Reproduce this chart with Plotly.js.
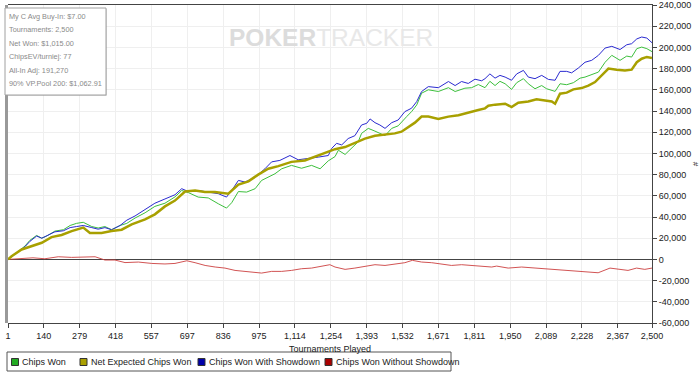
<!DOCTYPE html>
<html>
<head>
<meta charset="utf-8">
<script src="https://cdn.plot.ly/plotly-3.0.1.min.js"></script>
<style>html,body{margin:0;padding:0;background:#fff;}#chart{width:700px;height:374px;}</style>
</head>
<body>
<div id="chart"></div>
<script>
// Series names
const seriesNames = ["Chips Won", "Net Expected Chips Won", "Chips Won With Showdown", "Chips Won Without Showdown"];

// Sampled points: [tournament, chips in thousands]
const chipsWon = [[1,0],[28,5],[67,12.6],[86,18],[112,22.6],[132,20],[151,22],[183,26.7],[216,28],[242,32],[267,34],[293,35],[326,31],[351,29.6],[377,31],[403,28],[436,32],[462,34],[494,39],[533,44],[571,50],[610,53],[649,59],[675,65],[701,63],[739,58.8],[778,58],[817,52.5],[849,48.4],[869,53.5],[895,64],[927,63.5],[960,66.7],[985,74.5],[1011,77.7],[1037,80.8],[1063,85.5],[1101,88.7],[1140,86],[1179,88.7],[1212,85.5],[1244,93],[1270,97],[1283,103],[1309,99],[1334,104.7],[1360,111],[1373,118.9],[1399,123.6],[1425,121],[1464,116.7],[1490,123.6],[1515,126],[1548,134.7],[1567,139.4],[1587,145.7],[1606,156.8],[1632,160],[1671,158.4],[1710,162],[1736,158.4],[1774,161.5],[1800,162],[1826,165],[1852,162],[1871,168],[1891,164],[1910,168],[1930,165.7],[1955,160.4],[1975,166.7],[2001,170.5],[2020,165.7],[2046,161],[2072,164],[2091,161],[2124,158.5],[2143,165.7],[2169,164.8],[2195,166.7],[2221,171],[2240,172],[2266,174],[2292,176.7],[2318,186],[2344,192.5],[2376,187.8],[2402,191.8],[2421,190.9],[2441,198.8],[2460,200.3],[2480,198.8],[2500,196]];

const netExpected = [[1,0],[15,3],[54,9.4],[93,12.6],[132,15.7],[170,21],[209,23],[248,26.7],[293,30],[319,25],[364,25],[403,26.7],[442,28],[481,33],[533,37.7],[571,42.5],[610,50],[649,55.5],[688,64],[727,65],[765,63.5],[804,63.5],[856,62],[895,70.5],[934,73.6],[972,80],[1011,85.5],[1050,88],[1101,92],[1153,93.4],[1205,98],[1244,102],[1270,104],[1309,106],[1347,110],[1386,114],[1425,116.7],[1464,118],[1502,118.9],[1528,120.5],[1554,125],[1580,129],[1606,134.7],[1632,134.7],[1671,132.5],[1710,134.7],[1749,136],[1787,138.8],[1826,141],[1852,142.5],[1865,145],[1891,146],[1930,146.9],[1955,143.7],[1981,147.8],[2020,149],[2052,151],[2085,150],[2111,149],[2124,146.9],[2143,156.3],[2169,157.3],[2195,160.4],[2227,161.6],[2253,164],[2279,167.3],[2305,173.6],[2331,180],[2363,179],[2395,178.3],[2421,179],[2441,186],[2460,189.3],[2480,191],[2500,190]];

const withShowdown = [[1,0],[28,5],[67,12],[86,17],[112,22],[132,20],[151,22],[183,26],[216,27],[242,30],[267,31],[293,32],[326,30],[351,28.5],[377,30],[403,28],[436,32],[462,37],[494,41],[533,47],[571,53],[610,57],[649,61],[675,66.7],[701,64],[739,65],[778,63.5],[817,62],[849,58.8],[869,65],[895,74.5],[921,73],[947,76],[972,80],[998,85.5],[1024,92],[1056,93.4],[1095,98],[1127,94],[1166,95.6],[1205,96.5],[1244,98],[1257,104.7],[1276,109.5],[1296,108],[1321,114],[1347,116.7],[1373,126.8],[1393,128.4],[1406,132.5],[1425,129],[1444,126.8],[1464,123.6],[1490,129],[1515,131.5],[1541,139.4],[1567,142.6],[1587,148.9],[1606,158.4],[1632,163],[1671,162],[1710,167.8],[1736,164],[1761,167.8],[1787,166],[1813,170],[1839,168.5],[1852,170.5],[1871,175],[1891,171],[1910,173.6],[1930,172],[1955,169],[1975,175],[2001,178.3],[2020,172],[2046,170.5],[2072,173.6],[2098,169.8],[2124,169],[2143,177.4],[2169,177.4],[2188,176],[2214,180.5],[2240,186],[2266,187.8],[2292,192.5],[2318,199.4],[2344,201],[2376,198],[2402,202.5],[2421,203.5],[2441,208],[2460,209.8],[2480,208.8],[2500,204.4]];

const withoutShowdown = [[1,0],[47,0.6],[98,1.5],[144,0.6],[196,2.5],[248,1.9],[300,2.5],[339,2.5],[377,-0.6],[416,-0.6],[455,-3],[507,-2.5],[559,-3.8],[610,-4.3],[649,-3.8],[695,-1.3],[727,-3.1],[766,-5.7],[805,-7.2],[843,-8.2],[882,-10.4],[921,-11.3],[960,-12],[985,-12.9],[1024,-11.3],[1063,-11.3],[1101,-10.4],[1140,-8.8],[1179,-8.2],[1218,-6.3],[1250,-5],[1270,-7.2],[1309,-9.4],[1347,-8.2],[1386,-6.3],[1425,-5],[1464,-5.7],[1502,-4.1],[1541,-3.1],[1570,-0.9],[1606,-2.5],[1645,-3.1],[1684,-4.1],[1722,-5.7],[1761,-5],[1800,-5.7],[1839,-6.3],[1878,-7.2],[1897,-6.3],[1942,-8.2],[1994,-7.2],[2046,-8.2],[2098,-9.4],[2149,-10.4],[2201,-11.3],[2253,-12],[2291,-12.6],[2337,-8.2],[2369,-9.4],[2407,-10.4],[2440,-8.2],[2472,-9.4],[2500,-8.2]];

// Axis ticks
const xTickVals = [1,140,279,418,557,697,836,975,1114,1254,1393,1532,1671,1811,1950,2089,2228,2367,2500];
const xTickText = ["1","140","279","418","557","697","836","975","1,114","1,254","1,393","1,532","1,671","1,811","1,950","2,089","2,228","2,367","2,500"];
const yTickVals = [-60000,-40000,-20000,0,20000,40000,60000,80000,100000,120000,140000,160000,180000,200000,220000,240000];
const yTickText = ["-60,000","-40,000","-20,000","0","20,000","40,000","60,000","80,000","100,000","120,000","140,000","160,000","180,000","200,000","220,000","240,000"];

// Info box lines
const infoLines = ["My C Avg Buy-In: $7.00","Tournaments: 2,500","Net Won: $1,015.00","ChipsEV/turniej: 77","All-In Adj: 191,270","90% VP.Pool 200: $1,062.91"];

const lineColors = ["#3cbf3c", "#a8a000", "#2a2ad0", "#cc4040"];
const legendColors = ["#22aa22", "#aaa000", "#0000aa", "#aa0000"];

const FONT = 'Liberation Sans, Arial, sans-serif';

function tr(pts, name, color, width, op) {
  return {
    x: pts.map(p => p[0]), y: pts.map(p => p[1] * 1000),
    type: 'scatter', mode: 'lines', name: name, showlegend: false,
    line: {color: color, width: width, shape: 'linear'}, opacity: op, hoverinfo: 'skip'
  };
}

const traces = [
  tr(withoutShowdown, seriesNames[3], lineColors[3], 1, 0.9),
  tr(chipsWon, seriesNames[0], lineColors[0], 1, 1),
  tr(withShowdown, seriesNames[2], lineColors[2], 1, 1),
  tr(netExpected, seriesNames[1], lineColors[1], 2.5, 1)
];

// layout helpers (plot area px: x 8..652, y 5..323)
const L = 8, R = 652, T = 5, B = 323;
const px = v => (v - L) / (R - L);
const py = v => (B - v) / (B - T);

const annotations = [];
const shapes = [
  {type: 'line', xref: 'paper', yref: 'paper', x0: px(6.5), x1: px(6.5), y0: 0, y1: 1, line: {color: '#999', width: 3}},
  {type: 'rect', xref: 'paper', yref: 'paper', x0: px(6), x1: px(107), y0: py(96), y1: py(9), line: {color: 'rgba(0,0,0,0)', width: 0}, fillcolor: 'rgba(150,150,150,0.35)', layer: 'above'},
  {type: 'rect', xref: 'paper', yref: 'paper', x0: px(5), x1: px(106), y0: py(95), y1: py(8), line: {color: '#a0a0a0', width: 1}, fillcolor: '#ffffff', layer: 'above'},
  // legend frame
  {type: 'rect', xref: 'paper', yref: 'paper', x0: px(7), x1: px(451), y0: py(371), y1: py(352), line: {color: '#555', width: 1}, fillcolor: '#fff'}
];

const infoY = [16.5, 30, 43.5, 57, 70.5, 84];
infoLines.forEach((s, i) => {
  annotations.push({xref: 'paper', yref: 'paper', x: px(6.5), y: py(infoY[i]), xanchor: 'left', yanchor: 'middle',
    text: s, showarrow: false, font: {family: FONT, size: 7.3, color: '#8a8a8a'}});
});
annotations.push({xref: 'paper', yref: 'paper', x: px(331), y: py(38), xanchor: 'center', yanchor: 'middle',
  text: '<b><span style="color:#dcdcdc">POKER</span></b><span style="color:#e8e8e8">TRACKER</span>', showarrow: false,
  font: {family: FONT, size: 24.5, color: '#e4e4e4'}});

// legend entries (square + label)
const legSquareX = [15, 83.5, 201.5, 328.5];
const legY = 362;
seriesNames.forEach((n, i) => {
  shapes.push({type: 'rect', xref: 'paper', yref: 'paper', x0: px(legSquareX[i] - 3.5), x1: px(legSquareX[i] + 3.5),
    y0: py(legY + 3.5), y1: py(legY - 3.5), line: {color: '#333', width: 1}, fillcolor: legendColors[i]});
  annotations.push({xref: 'paper', yref: 'paper', x: px(legSquareX[i] + 5), y: py(legY), xanchor: 'left', yanchor: 'middle',
    text: n, showarrow: false, font: {family: FONT, size: 9, color: '#222'}});
});

const layout = {
  width: 700, height: 374,
  margin: {l: L, r: 700 - R, t: T, b: 374 - B, pad: 0},
  paper_bgcolor: '#ffffff', plot_bgcolor: '#ffffff',
  font: {family: FONT, size: 9, color: '#222'},
  showlegend: false,
  xaxis: {range: [1, 2500], tickvals: xTickVals, ticktext: xTickText, showgrid: true, gridcolor: '#efefef', gridwidth: 1,
    zeroline: false, showline: true, linecolor: '#444', linewidth: 1, mirror: true, ticks: 'outside', ticklen: 4, tickcolor: '#444',
    tickfont: {size: 9, color: '#222'}, ticklabeloverflow: 'allow',
    title: {text: 'Tournaments Played', font: {size: 9, color: '#222'}, standoff: 5}, automargin: false, fixedrange: true},
  yaxis: {range: [-60000, 240000], side: 'right', tickvals: yTickVals, ticktext: yTickText, showgrid: true, gridcolor: '#efefef',
    zeroline: true, zerolinecolor: '#444', zerolinewidth: 1.5, showline: true, linecolor: '#444', linewidth: 1,
    ticks: 'outside', ticklen: 4, tickcolor: '#444', tickfont: {size: 9, color: '#222'}, ticklabeloverflow: 'allow',
    title: {text: '#', font: {size: 8, color: '#222'}, standoff: 8}, automargin: false, fixedrange: true},
  shapes: shapes,
  annotations: annotations
};

Plotly.newPlot('chart', traces, layout, {staticPlot: true, displayModeBar: false});
</script>
</body>
</html>
